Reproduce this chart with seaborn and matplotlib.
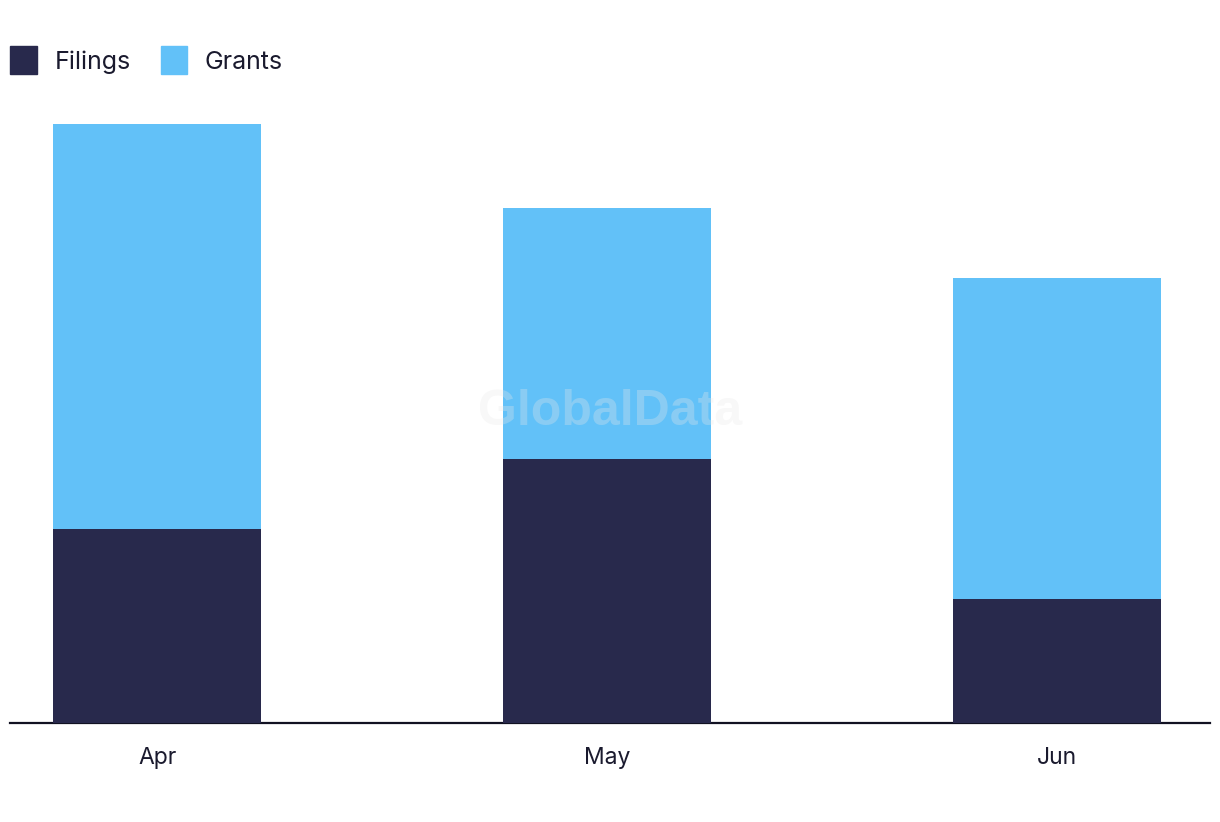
import matplotlib
matplotlib.use("Agg")
import matplotlib.pyplot as plt
import matplotlib.patches as mpatches
import seaborn as sns
import pandas as pd

months = ["Apr", "May", "Jun"]
filings = [19.4, 26.4, 12.4]
grants = [40.5, 25.1, 32.1]

sns.set_theme(style="white")
plt.rcParams['font.family'] = ['Inter', 'DejaVu Sans']

dark = "#28294C"
light = "#62C1F8"

fig = plt.figure(figsize=(12.2, 8.22), dpi=100)
ax = fig.add_axes([10/1220, 1 - 723/822, 1200/1220, 623/822])

totals = [f + g for f, g in zip(filings, grants)]
df_tot = pd.DataFrame({"month": months, "value": totals})
df_fil = pd.DataFrame({"month": months, "value": filings})

sns.barplot(data=df_tot, x="month", y="value", color=light, width=0.462,
            saturation=1, ax=ax, zorder=2, linewidth=0, edgecolor="none")
sns.barplot(data=df_fil, x="month", y="value", color=dark, width=0.462,
            saturation=1, ax=ax, zorder=3, linewidth=0, edgecolor="none")

ax.set_xlim(-0.327, 2.339)
ax.set_ylim(0, 62.3)
ax.set_xlabel("")
ax.set_ylabel("")
ax.set_yticks([])
for s in ["top", "right", "left"]:
    ax.spines[s].set_visible(False)
ax.spines["bottom"].set_color("#111122")
ax.spines["bottom"].set_linewidth(1.6)
ax.tick_params(axis="x", length=0, pad=17, labelsize=16.5, labelcolor="#1a1a2e")

ax.text(0.5, 1 - 412/822, "GlobalData", transform=fig.transFigure, ha="center", va="center",
        fontsize=36, fontweight="bold", color="#e8e8e8", alpha=0.3,
        family=["Liberation Sans", "DejaVu Sans"], zorder=10)

handles = [mpatches.Patch(color=dark, label="Filings"),
           mpatches.Patch(color=light, label="Grants")]
fig.legend(handles=handles, loc="upper left", bbox_to_anchor=(-0.008, 1 - 26/822),
           ncol=2, frameon=False, fontsize=18, handlelength=1.07, handleheight=1.37,
           handletextpad=0.7, columnspacing=1.2, labelcolor="#1a1a2e", borderaxespad=0.4)

fig.savefig("out.png", dpi=100)
